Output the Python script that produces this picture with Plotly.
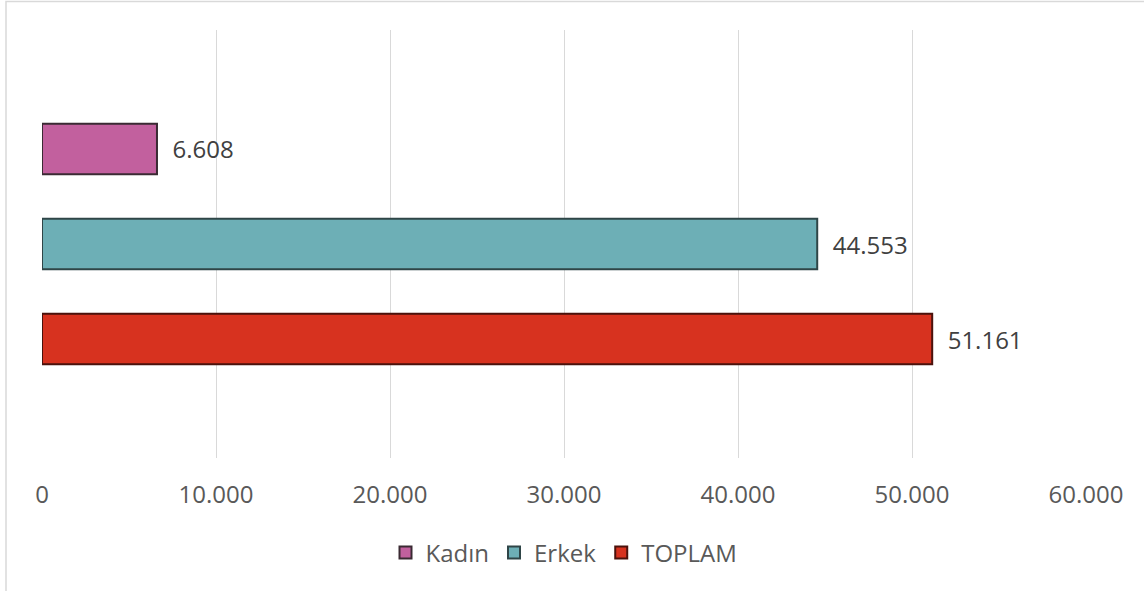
import plotly.graph_objects as go

categories = [""]
series_names = ["Kadın", "Erkek", "TOPLAM"]
kadin = [6608]
erkek = [44553]
toplam = [51161]
tick_vals = [0, 10000, 20000, 30000, 40000, 50000, 60000]

fills = ["#C2609E", "#6DAFB6", "#D7321F"]
edges = ["#3A2A33", "#2F4547", "#4A120C"]

fig = go.Figure()
for name, vals, fc, ec in zip(series_names, [kadin, erkek, toplam], fills, edges):
    fig.add_trace(go.Bar(
        y=categories, x=vals, name=name, orientation="h",
        marker=dict(color=fc, line=dict(color=ec, width=2)),
        texttemplate="\u00a0\u00a0%{x:,.0f}", textposition="outside",
        textfont=dict(size=24, color="#404040", family="Open Sans"),
        cliponaxis=False,
    ))

fig.update_layout(
    width=1144, height=591,
    barmode="group", bargap=0.334, bargroupgap=0.47,
    separators=",.",
    plot_bgcolor="white", paper_bgcolor="white",
    margin=dict(l=42, r=58, t=30, b=133),
    font=dict(family="Open Sans", color="#595959"),
    xaxis=dict(range=[0, 60000], tickvals=tick_vals, tickformat=",d",
               showgrid=True, gridcolor="#D9D9D9", gridwidth=1,
               zeroline=False, showline=False, ticks="",
               tickfont=dict(size=24, color="#595959"), ticklabelstandoff=20),
    yaxis=dict(autorange="reversed", showticklabels=False, showgrid=False,
               zeroline=False, showline=False),
    legend=dict(orientation="h", x=0.5, xanchor="center", y=-0.222, yanchor="middle",
                font=dict(size=24, color="#595959"), traceorder="normal",
                itemwidth=30),
    showlegend=True,
    shapes=[dict(type="rect", xref="paper", yref="paper",
                 x0=-36/1044, x1=1.2, y0=-0.5, y1=1 + 28.5/428,
                 line=dict(color="#D9D9D9", width=1.5), layer="below")],
)

fig.write_html("out.html", config={"displayModeBar": False},
               post_script="document.body.style.margin='0';document.body.style.overflow='hidden';")
